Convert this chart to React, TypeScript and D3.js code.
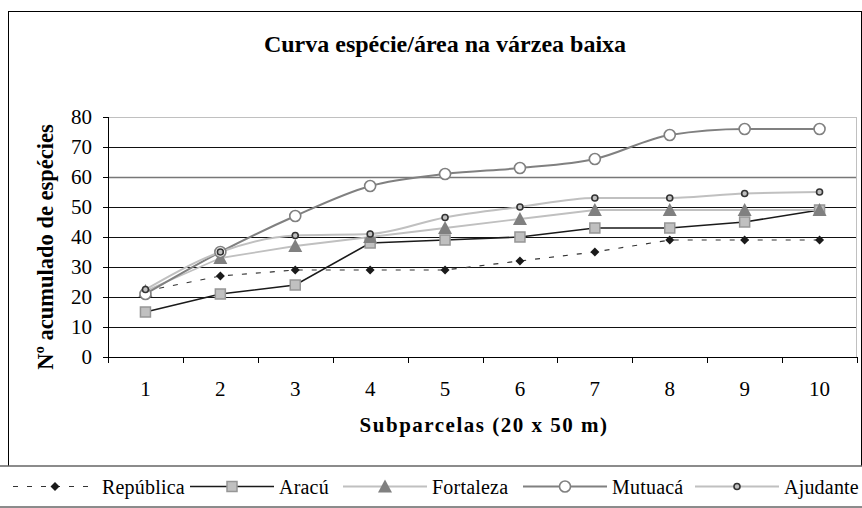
import * as d3 from 'd3';
import { useEffect, useRef } from 'react';

const subplots = ['1', '2', '3', '4', '5', '6', '7', '8', '9', '10'];
const yTicks = [0, 10, 20, 30, 40, 50, 60, 70, 80];

const republica = [22, 27, 29, 29, 29, 32, 35, 39, 39, 39];
const aracu = [15, 21, 24, 38, 39, 40, 43, 43, 45, 49];
const fortaleza = [22, 33, 37, 40, 43, 46, 49, 49, 49, 49];
const mutuaca = [21, 35, 47, 57, 61, 63, 66, 74, 76, 76];
const ajudante = [22.5, 35, 40.5, 41, 46.5, 50, 53, 53, 54.5, 55];

const seriesNames = ['República', 'Aracú', 'Fortaleza', 'Mutuacá', 'Ajudante'];

export default function App() {
  const svgRef = useRef(null);

  useEffect(() => {
    if (!svgRef.current) return;
    d3.select(svgRef.current).selectAll('*').remove();

    const W = 862;
    const H = 508;
    const font = 'Liberation Serif, Times New Roman, serif';
    const margin = { top: 117, right: 5, bottom: 151, left: 108 };
    const width = W - margin.left - margin.right;
    const height = H - margin.top - margin.bottom;

    const svg = d3.select(svgRef.current).attr('width', W).attr('height', H);

    // outer frame
    svg.append('rect').attr('x', 8.5).attr('y', 11.5).attr('width', 853).attr('height', 495)
      .attr('fill', 'white').attr('stroke', '#000').attr('stroke-width', 1);

    svg.append('text').attr('x', 445).attr('y', 52).attr('text-anchor', 'middle')
      .attr('font-family', font).attr('font-weight', 'bold').attr('font-size', 24)
      .text('Curva espécie/área na várzea baixa');

    const g = svg.append('g').attr('transform', `translate(${margin.left},${margin.top})`);

    const x = d3.scaleBand().domain(subplots).range([0, width]).padding(0);
    const y = d3.scaleLinear().domain([0, 80]).range([height, 0]);
    const cx = (i: number) => x(subplots[i])! + x.bandwidth() / 2;

    // gridlines
    g.selectAll('line.grid').data(yTicks.filter((t) => t > 0)).join('line')
      .attr('x1', 0).attr('x2', width)
      .attr('y1', (d) => Math.round(y(d)) + 0.5).attr('y2', (d) => Math.round(y(d)) + 0.5)
      .attr('stroke', (d) => (d === 80 ? '#c0c0c0' : d === 60 ? '#777' : '#111'))
      .attr('stroke-width', (d) => (d === 60 ? 1.6 : 1));
    g.append('line').attr('x1', width - 0.5).attr('x2', width - 0.5).attr('y1', 0).attr('y2', height)
      .attr('stroke', '#c0c0c0');

    // axes
    const yAxis = g.append('g').call(d3.axisLeft(y).tickValues(yTicks).tickSize(5).tickPadding(11).tickFormat(d3.format('d')));
    yAxis.select('.domain').remove();
    yAxis.selectAll('line').attr('stroke', '#000');
    yAxis.selectAll('text').attr('font-family', font).attr('font-size', 21).attr('fill', '#000');
    g.append('line').attr('x1', 0.5).attr('x2', 0.5).attr('y1', 0).attr('y2', height).attr('stroke', '#000');

    const xAxis = g.append('g').attr('transform', `translate(0,${height})`)
      .call(d3.axisBottom(x).tickSize(0).tickPadding(24));
    xAxis.select('.domain').remove();
    xAxis.selectAll('text').attr('font-family', font).attr('font-size', 21).attr('fill', '#000');
    g.append('line').attr('x1', 0).attr('x2', width).attr('y1', height + 0.5).attr('y2', height + 0.5).attr('stroke', '#000');
    g.selectAll('line.xt').data(d3.range(subplots.length + 1)).join('line')
      .attr('x1', (i) => Math.round(i * x.bandwidth()) + 0.5).attr('x2', (i) => Math.round(i * x.bandwidth()) + 0.5)
      .attr('y1', height).attr('y2', height + 6).attr('stroke', '#000');

    // axis titles
    svg.append('text').attr('x', 484).attr('y', 432).attr('text-anchor', 'middle')
      .attr('font-family', font).attr('font-weight', 'bold').attr('font-size', 21).attr('letter-spacing', 1.5)
      .text('Subparcelas (20 x 50 m)');
    svg.append('text').attr('transform', `translate(53,247) rotate(-90)`)
      .attr('text-anchor', 'middle').attr('font-family', font).attr('font-weight', 'bold').attr('font-size', 22.5)
      .text('Nº acumulado de espécies');

    const straight = d3.line<number>().x((_, i) => cx(i)).y((d) => y(d));
    const smooth = d3.line<number>().x((_, i) => cx(i)).y((d) => y(d)).curve(d3.curveMonotoneX);

    const series = [
      { name: seriesNames[0], data: republica, line: straight, stroke: '#333', sw: 1.2, dash: '5,9', marker: 'diamond' },
      { name: seriesNames[1], data: aracu, line: straight, stroke: '#1a1a1a', sw: 1.6, dash: null, marker: 'square' },
      { name: seriesNames[2], data: fortaleza, line: straight, stroke: '#c0c0c0', sw: 1.8, dash: null, marker: 'triangle' },
      { name: seriesNames[3], data: mutuaca, line: smooth, stroke: '#808080', sw: 2, dash: null, marker: 'circle' },
      { name: seriesNames[4], data: ajudante, line: smooth, stroke: '#c0c0c0', sw: 2, dash: null, marker: 'dot' },
    ];

    const drawMarker = (sel: any, kind: string, px: number, py: number) => {
      if (kind === 'diamond') {
        sel.append('path').attr('d', `M${px},${py - 4.5}L${px + 4.5},${py}L${px},${py + 4.5}L${px - 4.5},${py}Z`).attr('fill', '#1a1a1a');
      } else if (kind === 'square') {
        sel.append('rect').attr('x', px - 5).attr('y', py - 5).attr('width', 10).attr('height', 10)
          .attr('fill', '#c0c0c0').attr('stroke', '#969696').attr('stroke-width', 1.5);
      } else if (kind === 'triangle') {
        sel.append('path').attr('d', `M${px},${py - 7}L${px + 7},${py + 6}L${px - 7},${py + 6}Z`).attr('fill', '#808080');
      } else if (kind === 'circle') {
        sel.append('circle').attr('cx', px).attr('cy', py).attr('r', 5.5)
          .attr('fill', 'white').attr('stroke', '#808080').attr('stroke-width', 1.6);
      } else {
        sel.append('circle').attr('cx', px).attr('cy', py).attr('r', 3)
          .attr('fill', '#c0c0c0').attr('stroke', '#333').attr('stroke-width', 1.6);
      }
    };

    series.forEach((s) => {
      g.append('path').attr('d', s.line(s.data)!).attr('fill', 'none').attr('stroke', s.stroke)
        .attr('stroke-width', s.sw).attr('stroke-dasharray', s.dash);
    });
    series.forEach((s) => {
      const mg = g.append('g');
      s.data.forEach((v, i) => drawMarker(mg, s.marker, cx(i), y(v)));
    });

    // legend
    const ly = 486.5;
    svg.append('rect').attr('x', -2).attr('y', 466).attr('width', W + 4).attr('height', 41)
      .attr('fill', 'white').attr('stroke', '#666').attr('stroke-width', 1.5);
    const legendX = [13, 190, 343, 523, 695];
    series.forEach((s, i) => {
      const x0 = legendX[i];
      const lg = svg.append('g');
      lg.append('line').attr('x1', x0).attr('x2', x0 + 84).attr('y1', ly).attr('y2', ly)
        .attr('stroke', s.stroke).attr('stroke-width', s.sw).attr('stroke-dasharray', s.dash);
      drawMarker(lg, s.marker, x0 + 42, ly);
      lg.append('text').attr('x', x0 + 89).attr('y', ly + 7).attr('font-family', font).attr('font-size', 20)
        .attr('letter-spacing', 0.2).text(s.name);
    });
  }, []);

  return (
    <div style={{ position: 'absolute', left: 0, top: 0 }}>
      <svg ref={svgRef} style={{ display: 'block' }} />
    </div>
  );
}
